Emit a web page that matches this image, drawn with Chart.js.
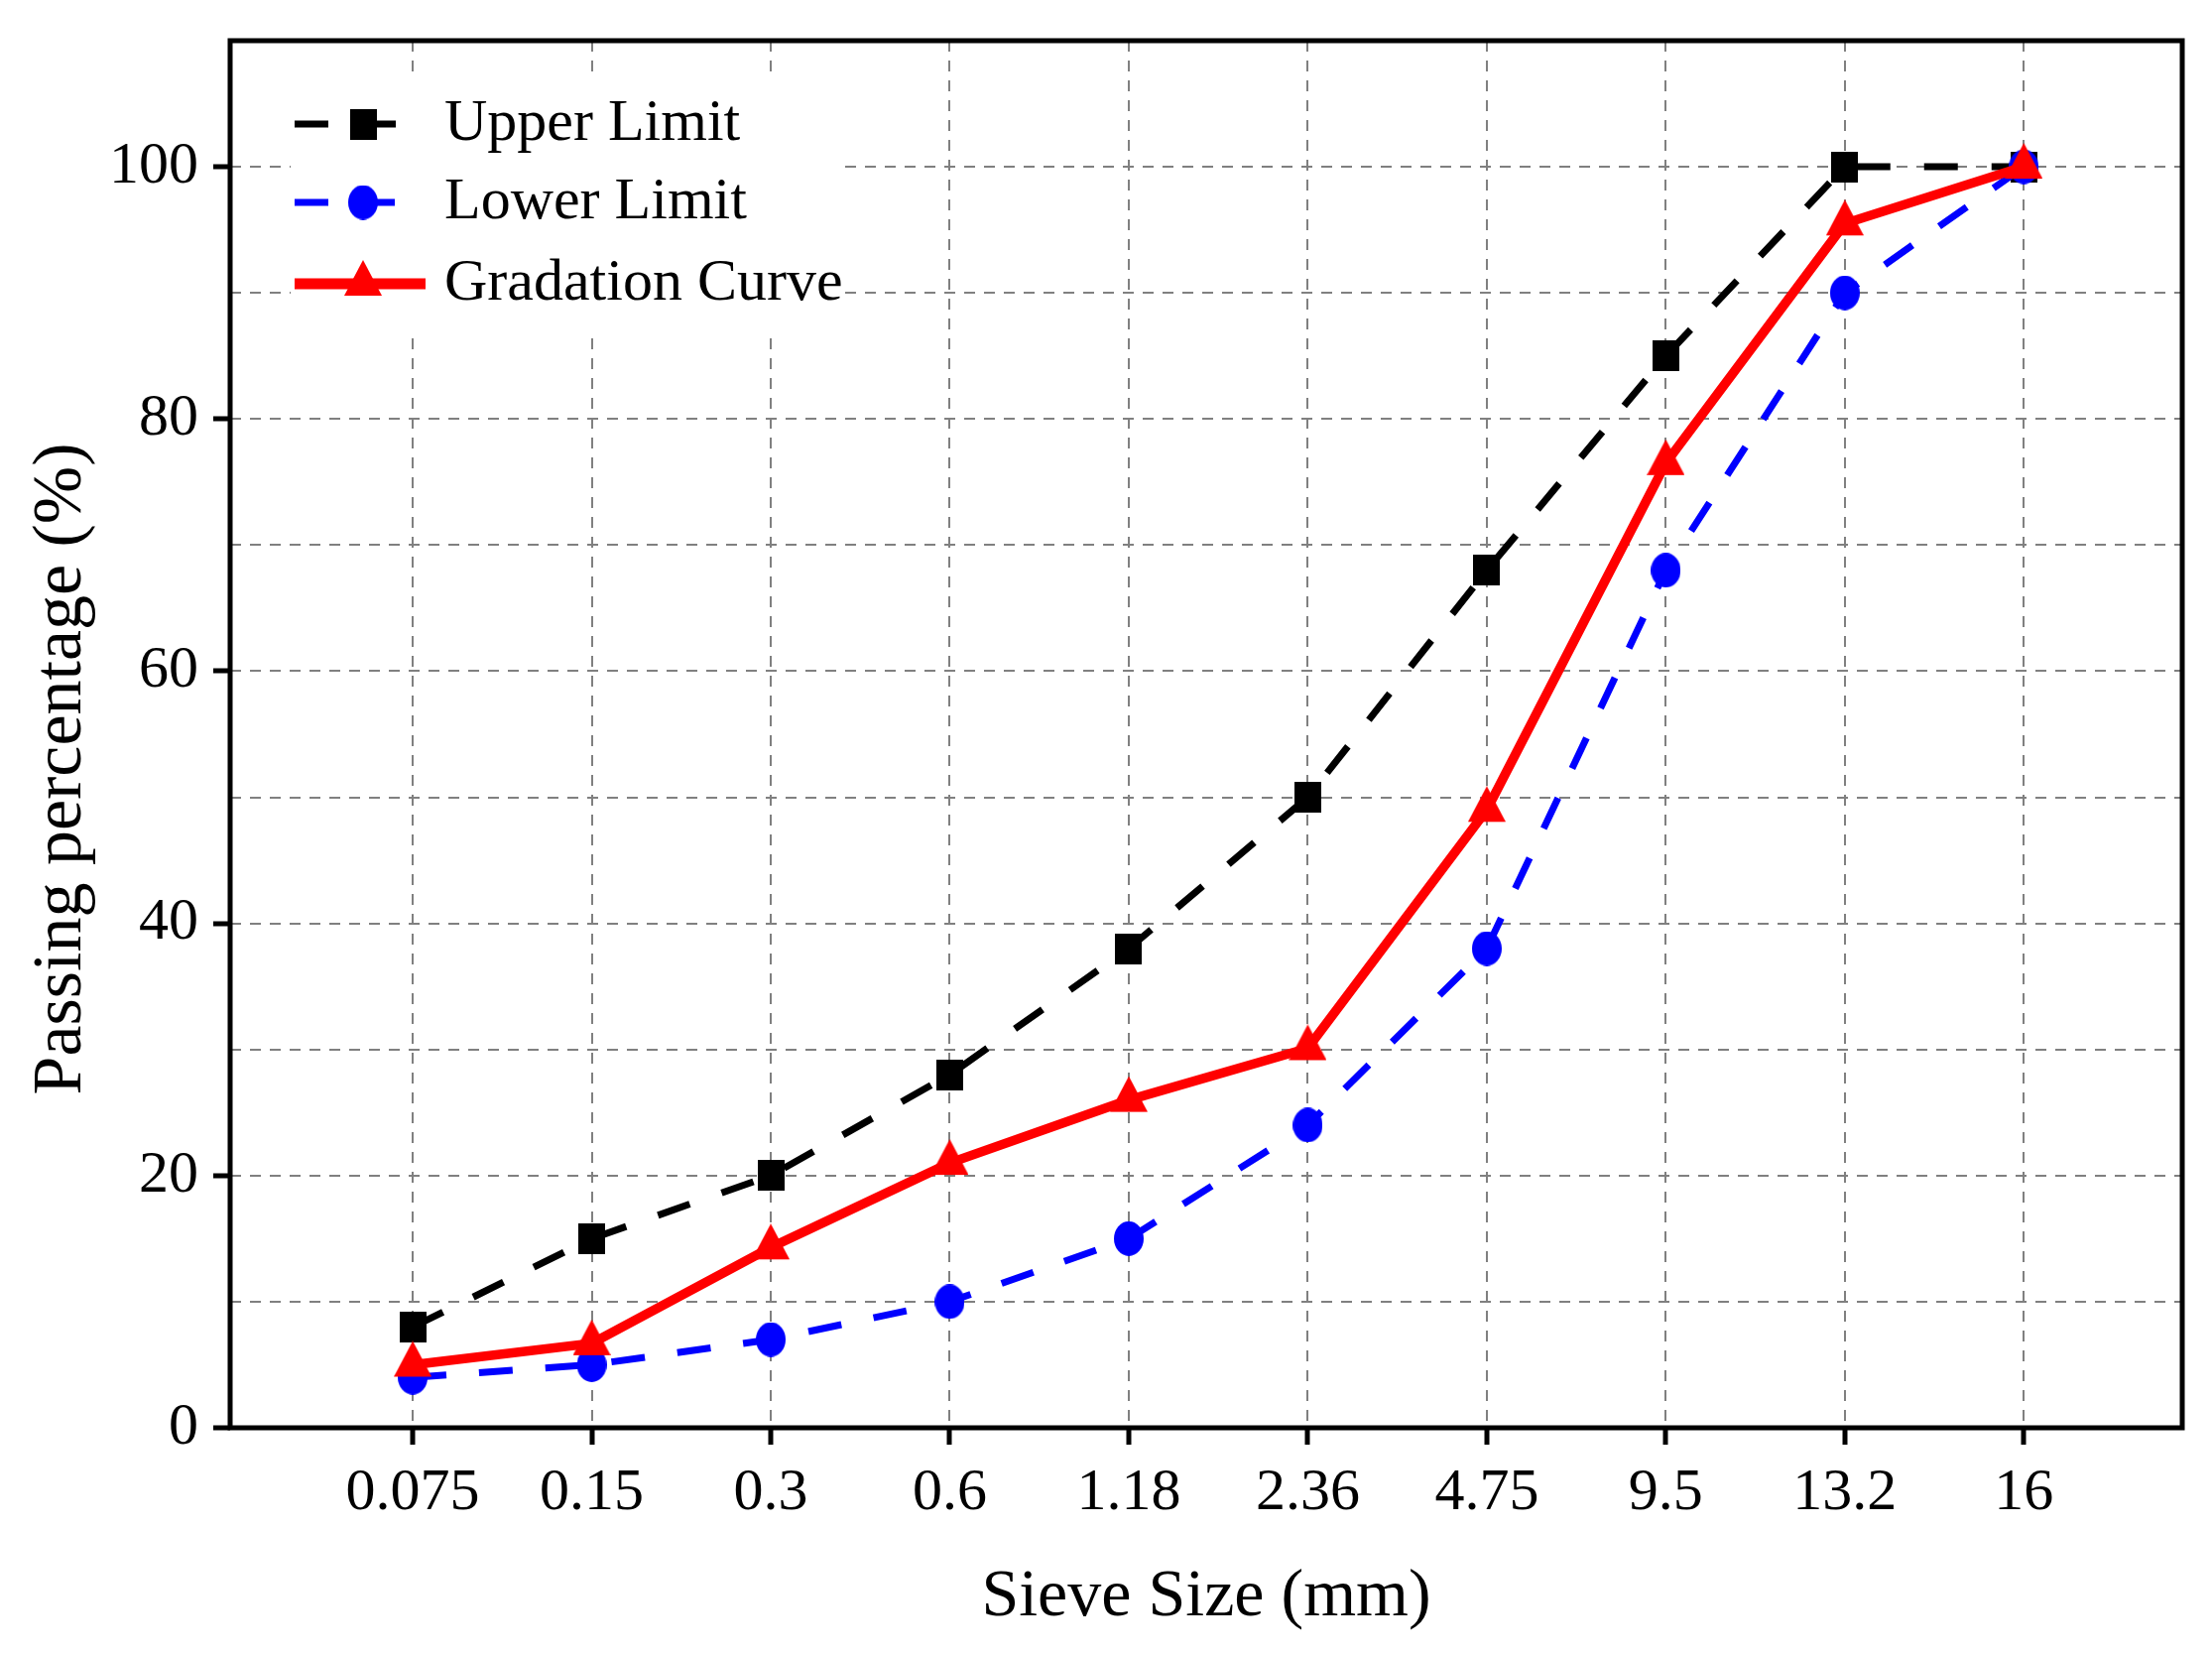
<!DOCTYPE html>
<html>
<head>
<meta charset="utf-8">
<script src="https://cdn.jsdelivr.net/npm/chart.js@4.4.1/dist/chart.umd.min.js"></script>
<style>
  html, body { margin: 0; padding: 0; background: #fff; }
  #wrap { width: 2230px; height: 1669px; }
</style>
</head>
<body>
<div id="wrap"><canvas id="chart"></canvas></div>
<script>
// Sieve sizes (mm) shown as evenly spaced categories
const sieveSizes = ["0.075", "0.15", "0.3", "0.6", "1.18", "2.36", "4.75", "9.5", "13.2", "16"];

// Passing percentage (%)
const upperLimit = [8, 15, 20, 28, 38, 50, 68, 85, 100, 100];
const lowerLimit = [4, 5, 7, 10, 15, 24, 38, 68, 90, 100];
const gradationCurve = [5.0, 6.7, 14.3, 21.0, 26.0, 30.1, 49.0, 76.5, 95.5, 100];

// y axis: grid every 10, labels every 20
const yGridValues = [0, 10, 20, 30, 40, 50, 60, 70, 80, 90, 100, 110];
const yLabelValues = [0, 20, 40, 60, 80, 100];

Chart.defaults.font.family = "'Liberation Serif', 'Times New Roman', serif";
Chart.defaults.color = "#000";

// markers are a bit taller than wide in the original figure
function makeMarker(shape, color, w, h) {
  const c = document.createElement("canvas");
  // triangle canvas is padded so its centroid sits on the data point
  c.width = w;
  c.height = shape === "triangle" ? Math.round(h * 4 / 3) : h;
  const g = c.getContext("2d");
  g.fillStyle = color;
  g.beginPath();
  if (shape === "rect") {
    g.rect(0, 0, w, h);
  } else if (shape === "ellipse") {
    g.ellipse(w / 2, h / 2, w / 2, h / 2, 0, 0, Math.PI * 2);
  } else {
    g.moveTo(w / 2, 0);
    g.lineTo(w, h);
    g.lineTo(0, h);
    g.closePath();
  }
  g.fill();
  return c;
}

const toPoints = (arr) => arr.map((v, i) => ({ x: i, y: v }));

// legend drawn inside the plot, on a white patch over the grid
const insideLegend = {
  id: "insideLegend",
  afterDatasetsDraw(chart, args, opts) {
    const ctx = chart.ctx;
    ctx.save();
    ctx.fillStyle = "#fff";
    ctx.fillRect(opts.box.x, opts.box.y, opts.box.w, opts.box.h);
    chart.data.datasets.forEach((ds, i) => {
      const y = opts.rows[i];
      ctx.strokeStyle = ds.borderColor;
      ctx.lineWidth = opts.lineWidths[i];
      ctx.setLineDash(ds.borderDash || []);
      ctx.beginPath();
      ctx.moveTo(opts.lineX0, y);
      ctx.lineTo(opts.lineX1, y);
      ctx.stroke();
      ctx.setLineDash([]);
      const m = ds.pointStyle;
      ctx.drawImage(m, opts.markerX - m.width / 2, y - m.height / 2);
      ctx.fillStyle = "#000";
      ctx.font = opts.fontSize + "px " + Chart.defaults.font.family;
      ctx.textAlign = "left";
      ctx.textBaseline = "middle";
      ctx.fillText(ds.label, opts.textX, y);
    });
    ctx.restore();
  },
};

// thick black frame around the plot area
const plotFrame = {
  id: "plotFrame",
  afterDatasetsDraw(chart) {
    const { ctx, chartArea: a } = chart;
    ctx.save();
    ctx.strokeStyle = "#000";
    ctx.lineWidth = 5;
    ctx.strokeRect(a.left, a.top, a.right - a.left, a.bottom - a.top);
    ctx.restore();
  },
};

const ctx = document.getElementById("chart").getContext("2d");
new Chart(ctx, {
  type: "line",
  data: {
    datasets: [
      {
        label: "Upper Limit",
        data: toPoints(upperLimit),
        borderColor: "#000000",
        borderWidth: 7,
        borderDash: [34, 34],
        pointStyle: makeMarker("rect", "#000000", 27, 31),
        pointRadius: 15,
        tension: 0,
        order: 2,
      },
      {
        label: "Lower Limit",
        data: toPoints(lowerLimit),
        borderColor: "#0000ff",
        borderWidth: 7,
        borderDash: [34, 33],
        pointStyle: makeMarker("ellipse", "#0000ff", 30, 35),
        pointRadius: 15,
        tension: 0,
        order: 1,
      },
      {
        label: "Gradation Curve",
        data: toPoints(gradationCurve),
        borderColor: "#ff0000",
        borderWidth: 9.5,
        pointStyle: makeMarker("triangle", "#ff0000", 38, 36),
        pointRadius: 15,
        tension: 0,
        order: 0,
      },
    ],
  },
  options: {
    responsive: true,
    maintainAspectRatio: false,
    animation: false,
    events: [],
    layout: { padding: { top: 41, right: 30, left: 0, bottom: 0 } },
    plugins: {
      legend: { display: false },
      tooltip: { enabled: false },
      insideLegend: {
        box: { x: 293, y: 77, w: 559, h: 256 },
        rows: [125, 204, 286],
        lineWidths: [7, 7, 11],
        lineX0: 297,
        lineX1: 429,
        markerX: 366,
        textX: 448,
        fontSize: 60,
      },
    },
    scales: {
      x: {
        type: "linear",
        min: -1.02,
        max: 9.885,
        afterBuildTicks: (axis) => {
          axis.ticks = sieveSizes.map((_, i) => ({ value: i }));
        },
        afterFit: (axis) => {
          axis.height = 230;
          axis.paddingLeft = 0;
          axis.paddingRight = 0;
        },
        border: { display: false, dash: [11, 9] },
        grid: {
          color: "#808080",
          lineWidth: 2,
          tickLength: 17,
          tickWidth: 5,
          tickColor: "#000",
        },
        ticks: {
          padding: 13,
          maxRotation: 0,
          autoSkip: false,
          color: "#000",
          font: { size: 60 },
          callback: (v) => sieveSizes[v],
        },
        title: {
          display: true,
          text: "Sieve Size (mm)",
          color: "#000",
          font: { size: 68 },
          padding: { top: 0, bottom: 18 },
        },
      },
      y: {
        type: "linear",
        min: 0,
        max: 110,
        afterBuildTicks: (axis) => {
          axis.ticks = yGridValues.map((v) => ({ value: v }));
        },
        afterFit: (axis) => {
          axis.width = 232;
          axis.paddingTop = 0;
          axis.paddingBottom = 0;
        },
        border: { display: false, dash: [11, 9] },
        grid: {
          color: "#808080",
          lineWidth: 2,
          tickLength: 17,
          tickWidth: 5,
          tickColor: (c) => (c.tick && yLabelValues.includes(c.tick.value) ? "#000" : "rgba(0,0,0,0)"),
        },
        ticks: {
          padding: 15,
          color: "#000",
          font: { size: 60 },
          callback: (v) => (yLabelValues.includes(v) ? v : ""),
        },
        title: {
          display: true,
          // trailing spaces nudge the rotated title down, as in the original
          text: "Passing percentage (%)    ",
          color: "#000",
          font: { size: 70 },
          padding: { top: 21, bottom: 0 },
        },
      },
    },
  },
  plugins: [insideLegend, plotFrame],
});
</script>
</body>
</html>
